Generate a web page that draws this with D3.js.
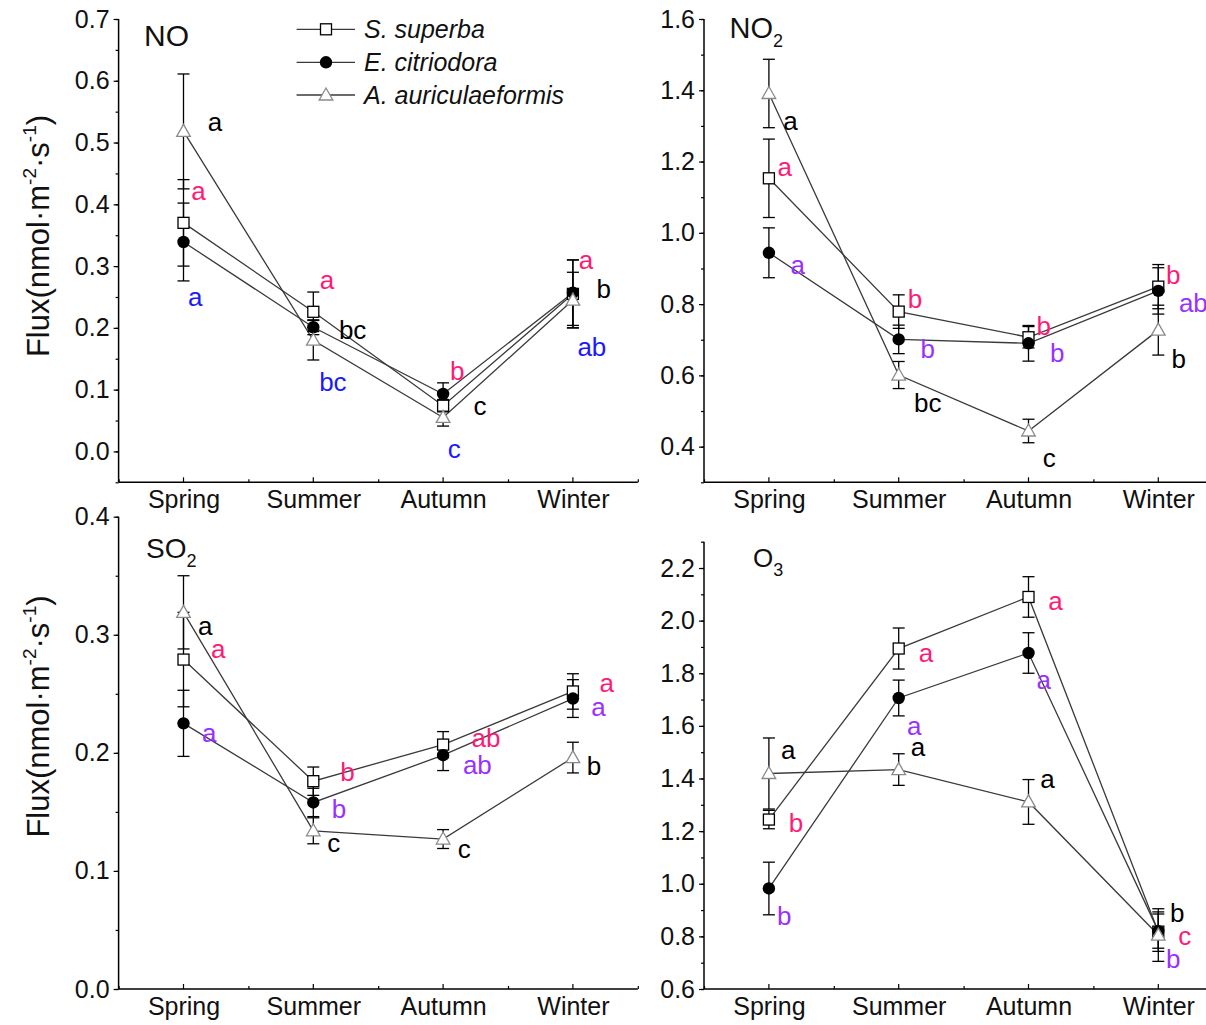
<!DOCTYPE html>
<html><head><meta charset="utf-8">
<script src="https://cdn.jsdelivr.net/npm/d3@7"></script>
<style>body{margin:0;background:#fff}svg{display:block}text{font-family:"Liberation Sans",Arial,sans-serif}</style>
</head><body><svg id="c" width="1206" height="1025"></svg>
<script>
// ---------- data ----------
const seasons = ["Spring", "Summer", "Autumn", "Winter"];
const species = ["S. superba", "E. citriodora", "A. auriculaeformis"];

// NO
const noSuperba = [0.370, 0.226, 0.074, 0.255];
const noSuperbaErr = [0.070, 0.032, 0.010, 0.055];
const noCitriodora = [0.339, 0.201, 0.093, 0.257];
const noCitriodoraErr = [0.063, 0.012, 0.018, 0.053];
const noAuric = [0.518, 0.180, 0.055, 0.245];
const noAuricErr = [0.093, 0.032, 0.014, 0.045];
const noTicks = [0.0, 0.1, 0.2, 0.3, 0.4, 0.5, 0.6, 0.7];

// NO2
const no2Superba = [1.153, 0.779, 0.707, 0.849];
const no2SuperbaErr = [0.110, 0.047, 0.030, 0.062];
const no2Citriodora = [0.944, 0.701, 0.690, 0.837];
const no2CitriodoraErr = [0.070, 0.040, 0.050, 0.065];
const no2Auric = [1.391, 0.601, 0.444, 0.727];
const no2AuricErr = [0.096, 0.038, 0.033, 0.070];
const no2Ticks = [0.4, 0.6, 0.8, 1.0, 1.2, 1.4, 1.6];

// SO2
const so2Superba = [0.279, 0.176, 0.207, 0.252];
const so2SuperbaErr = [0.040, 0.012, 0.011, 0.015];
const so2Citriodora = [0.225, 0.158, 0.198, 0.246];
const so2CitriodoraErr = [0.028, 0.012, 0.013, 0.016];
const so2Auric = [0.319, 0.134, 0.127, 0.196];
const so2AuricErr = [0.031, 0.011, 0.008, 0.013];
const so2Ticks = [0.0, 0.1, 0.2, 0.3, 0.4];

// O3
const o3Superba = [1.244, 1.894, 2.090, 0.818];
const o3SuperbaErr = [0.035, 0.078, 0.077, 0.075];
const o3Citriodora = [0.982, 1.706, 1.877, 0.820];
const o3CitriodoraErr = [0.100, 0.068, 0.077, 0.065];
const o3Auric = [1.419, 1.434, 1.311, 0.805];
const o3AuricErr = [0.135, 0.060, 0.085, 0.100];
const o3Ticks = [0.6, 0.8, 1.0, 1.2, 1.4, 1.6, 1.8, 2.0, 2.2];

// significance letters: [season position, value, letter, species index]
const noNotes = [[0.243,0.532,"a",2],[0.116,0.421,"a",0],[0.091,0.249,"a",1],
  [1.106,0.277,"a",0],[1.303,0.196,"bc",2],[1.151,0.111,"bc",1],
  [2.108,0.129,"b",0],[2.284,0.073,"c",2],[2.086,0.003,"c",1],
  [3.101,0.308,"a",0],[3.237,0.262,"b",2],[3.146,0.168,"ab",1]];
const no2Notes = [[0.167,1.312,"a",2],[0.122,1.183,"a",0],[0.223,0.908,"a",1],
  [1.126,0.812,"b",0],[1.224,0.671,"b",1],[1.224,0.522,"bc",2],
  [2.118,0.737,"b",0],[2.222,0.66,"b",1],[2.159,0.365,"c",2],
  [3.116,0.881,"b",0],[3.27,0.802,"ab",1],[3.157,0.643,"b",2]];
const so2Notes = [[0.167,0.307,"a",2],[0.268,0.287,"a",0],[0.198,0.216,"a",1],
  [1.264,0.183,"b",0],[1.197,0.152,"b",1],[1.157,0.123,"c",2],
  [2.331,0.212,"ab",0],[2.264,0.189,"ab",1],[2.163,0.118,"c",2],
  [3.26,0.259,"a",0],[3.198,0.238,"a",1],[3.162,0.188,"b",2]];
const o3Notes = [[0.149,1.506,"a",2],[0.209,1.23,"b",0],[0.119,0.875,"b",1],
  [1.21,1.873,"a",0],[1.12,1.597,"a",1],[1.149,1.519,"a",2],
  [2.207,2.072,"a",0],[2.118,1.772,"a",1],[2.147,1.397,"a",2],
  [3.145,0.888,"b",2],[3.204,0.799,"c",0],[3.116,0.713,"b",1]];

// ---------- drawing ----------
const svg = d3.select("#c");
const FONT = 25;
const PINK = "#ff1a78", BLUE = "#1a1aff", PURPLE = "#9a30ff";

const panels = [
  {left:118.6, top:19, bottom:482.3, dom:[-0.05,0.7], ticks:noTicks, minor:0.05, fmt:".1f",
   series:[[noSuperba,noSuperbaErr],[noCitriodora,noCitriodoraErr],[noAuric,noAuricErr]],
   notes:noNotes, colors:[PINK,BLUE,"#000"], title:["NO",""], tx:144, ty:45.7, tsize:30},
  {left:704, top:19, bottom:482.3, dom:[0.3,1.6], ticks:no2Ticks, minor:0.1, fmt:".1f",
   series:[[no2Superba,no2SuperbaErr],[no2Citriodora,no2CitriodoraErr],[no2Auric,no2AuricErr]],
   notes:no2Notes, colors:[PINK,PURPLE,"#000"], title:["NO","2"], tx:729.5, ty:37.7, tsize:29},
  {left:118.6, top:516.7, bottom:989, dom:[0,0.4], ticks:so2Ticks, minor:0.05, fmt:".1f",
   series:[[so2Superba,so2SuperbaErr],[so2Citriodora,so2CitriodoraErr],[so2Auric,so2AuricErr]],
   notes:so2Notes, colors:[PINK,PURPLE,"#000"], title:["SO","2"], tx:146, ty:558.3, tsize:28},
  {left:704, top:541.7, bottom:989, dom:[0.6,2.3], ticks:o3Ticks, minor:0.1, fmt:".1f",
   series:[[o3Superba,o3SuperbaErr],[o3Citriodora,o3CitriodoraErr],[o3Auric,o3AuricErr]],
   notes:o3Notes, colors:[PINK,PURPLE,"#000"], title:["O","3"], tx:753, ty:566.7, tsize:26}
];
const PW = 519.2;

function marker(g, kind, x, y) {
  if (kind === 0) {
    g.append("rect").attr("x", x-5.5).attr("y", y-5.5).attr("width", 11).attr("height", 11)
      .attr("fill", "#fff").attr("stroke", "#000").attr("stroke-width", 1.3);
  } else if (kind === 1) {
    g.append("circle").attr("cx", x).attr("cy", y).attr("r", 6.2).attr("fill", "#000");
  } else {
    g.append("path").attr("d", `M${x},${y-7}L${x+6.8},${y+5}L${x-6.8},${y+5}Z`)
      .attr("fill", "#fff").attr("stroke", "#8a8a8a").attr("stroke-width", 1.3);
  }
}

panels.forEach(p => {
  const x = d3.scaleLinear().domain([-0.5, 3.5]).range([p.left, p.left + PW]);
  const y = d3.scaleLinear().domain(p.dom).range([p.bottom, p.top]);
  const g = svg.append("g");

  // y axis
  const minorY = d3.range(Math.round(p.dom[0]/p.minor), Math.round(p.dom[1]/p.minor)+1).map(k => +(k*p.minor).toFixed(3));
  const yMinor = d3.axisLeft(y).tickValues(minorY).tickSize(3).tickFormat("");
  g.append("g").attr("transform", `translate(${p.left},0)`).call(yMinor)
    .call(s => s.select(".domain").remove())
    .selectAll("line").attr("stroke", "#000").attr("stroke-width", 1.2);
  const yAxis = d3.axisLeft(y).tickValues(p.ticks).tickSize(5).tickPadding(4).tickFormat(d3.format(p.fmt));
  const ya = g.append("g").attr("transform", `translate(${p.left},0)`).call(yAxis);
  ya.select(".domain").attr("d", `M0,${p.top}V${p.bottom}`).attr("stroke", "#000").attr("stroke-width", 1.5);
  ya.selectAll(".tick line").attr("stroke", "#000").attr("stroke-width", 1.2);
  ya.selectAll(".tick text").attr("font-size", FONT).attr("fill", "#111")
    .attr("font-family", "'Liberation Sans', Arial, sans-serif");

  // x axis
  const xMinor = d3.axisTop(x).tickValues([-0.5,0.5,1.5,2.5,3.5]).tickSize(3).tickFormat("");
  g.append("g").attr("transform", `translate(0,${p.bottom})`).call(xMinor)
    .call(s => s.select(".domain").remove())
    .selectAll("line").attr("stroke", "#000").attr("stroke-width", 1.2);
  const xAxis = d3.axisBottom(x).tickValues([0,1,2,3]).tickSize(0).tickPadding(8).tickFormat(i => seasons[i]);
  const xa = g.append("g").attr("transform", `translate(0,${p.bottom})`).call(xAxis);
  xa.select(".domain").attr("d", `M${p.left},0H${p.left+PW}`).attr("stroke", "#000").attr("stroke-width", 1.5);
  xa.selectAll(".tick text").attr("font-size", FONT).attr("fill", "#111")
    .attr("font-family", "'Liberation Sans', Arial, sans-serif");
  g.append("g").attr("transform", `translate(0,${p.bottom})`)
    .selectAll("line").data([0,1,2,3]).join("line")
    .attr("x1", d => x(d)).attr("x2", d => x(d)).attr("y1", 0).attr("y2", -5)
    .attr("stroke", "#000").attr("stroke-width", 1.2);

  // lines
  const line = d3.line().x((d, i) => x(i)).y(d => y(d));
  p.series.forEach(([vals]) => {
    g.append("path").attr("d", line(vals)).attr("fill", "none")
      .attr("stroke", "#3a3a3a").attr("stroke-width", 1.3);
  });
  // error bars
  p.series.forEach(([vals, errs]) => {
    vals.forEach((v, i) => {
      const cx = x(i), y1 = y(v + errs[i]), y2 = y(v - errs[i]);
      g.append("line").attr("x1", cx).attr("x2", cx).attr("y1", y1).attr("y2", y2)
        .attr("stroke", "#000").attr("stroke-width", 1.3);
      [y1, y2].forEach(yy => g.append("line").attr("x1", cx-6).attr("x2", cx+6)
        .attr("y1", yy).attr("y2", yy).attr("stroke", "#000").attr("stroke-width", 1.3));
    });
  });
  // markers
  p.series.forEach(([vals], k) => vals.forEach((v, i) => marker(g, k, x(i), y(v))));

  // letters
  g.selectAll("text.note").data(p.notes).join("text").attr("class", "note")
    .attr("x", d => x(d[0])).attr("y", d => y(d[1])).attr("dy", "0.32em")
    .attr("text-anchor", "middle").attr("font-size", 26)
    .attr("fill", d => p.colors[d[3]]).text(d => d[2]);

  // title
  const t = g.append("text").attr("x", p.tx).attr("y", p.ty).attr("font-size", p.tsize).attr("fill", "#111");
  t.append("tspan").text(p.title[0]);
  if (p.title[1]) t.append("tspan").attr("font-size", 18).attr("dy", 9).text(p.title[1]);
});

// y axis labels
[236, 716.5].forEach(cy => {
  const t = svg.append("text").attr("transform", `translate(49,${cy}) rotate(-90)`)
    .attr("text-anchor", "middle").attr("font-size", 31).attr("fill", "#111");
  t.append("tspan").text("Flux(nmol·m");
  t.append("tspan").attr("font-size", 19).attr("dy", -13).text("-2");
  t.append("tspan").attr("dy", 13).text("·s");
  t.append("tspan").attr("font-size", 19).attr("dy", -13).text("-1");
  t.append("tspan").attr("dy", 13).text(")");
});

// legend
const legRows = [29.3, 62.3, 95];
species.forEach((s, k) => {
  const ly = legRows[k];
  svg.append("line").attr("x1", 296.6).attr("x2", 355).attr("y1", ly).attr("y2", ly)
    .attr("stroke", "#3a3a3a").attr("stroke-width", 1.3);
  marker(svg, k, 326, ly);
  svg.append("text").attr("x", 364).attr("y", ly).attr("dy", "0.36em")
    .attr("font-size", 25).attr("font-style", "italic").attr("fill", "#111").text(s);
});
</script></body></html>
